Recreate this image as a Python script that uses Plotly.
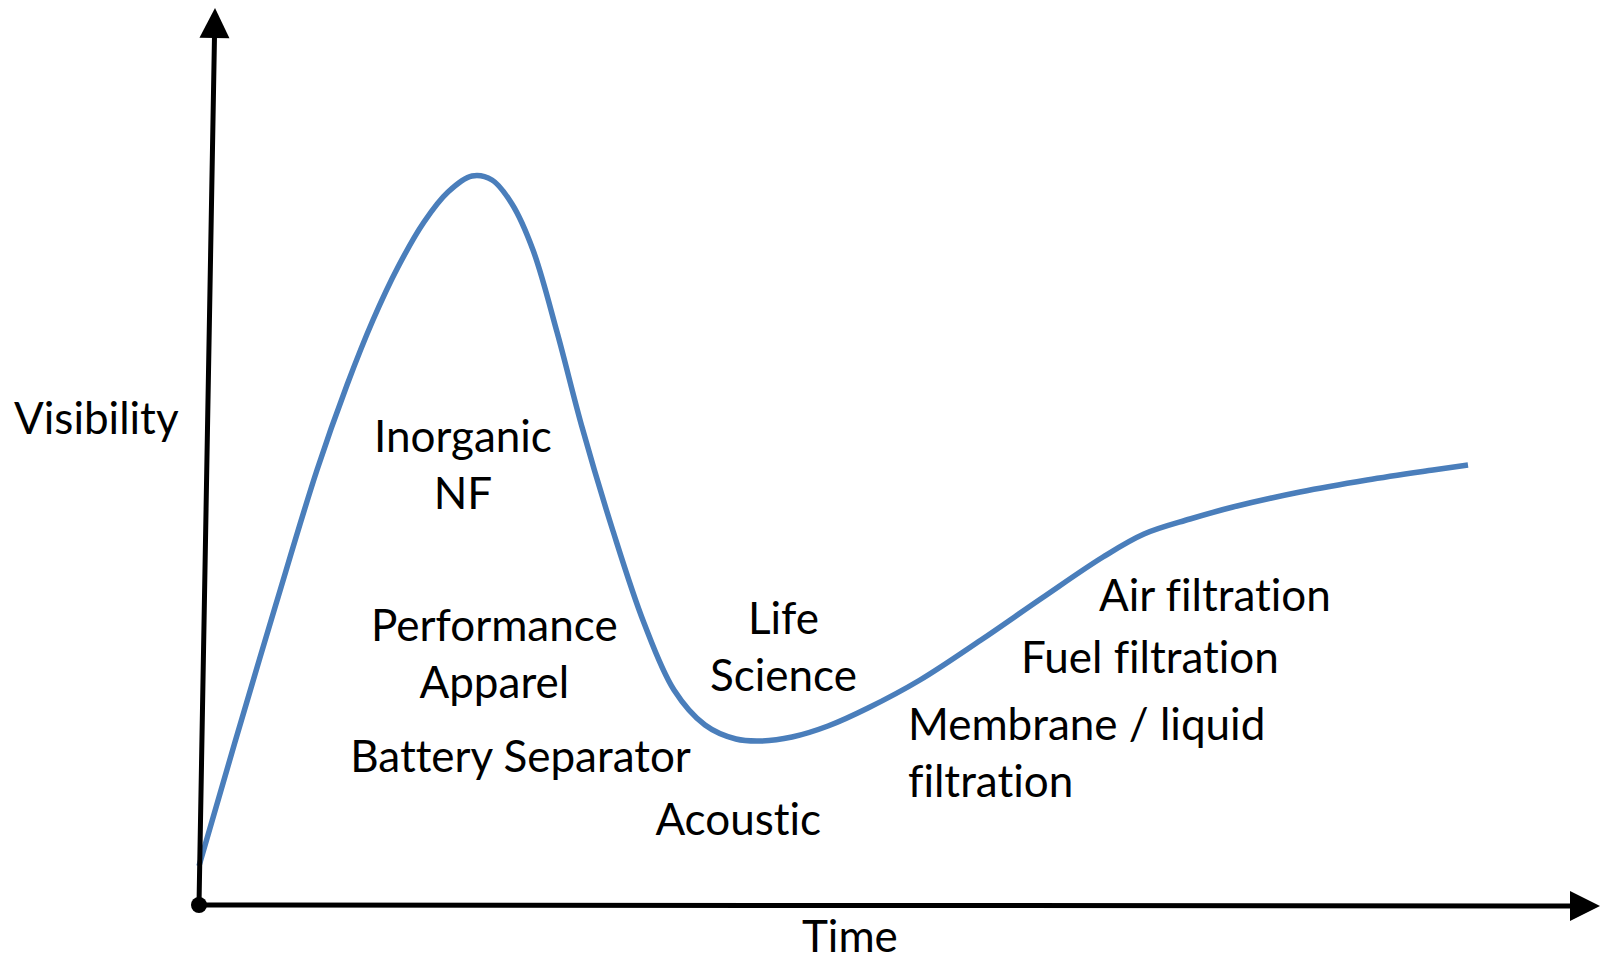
import plotly.graph_objects as go

# Hype-cycle curve (pixel-space coordinates of the drawing canvas)
curve_x = [199, 235, 276, 317, 347, 373, 398, 424, 448, 472, 492, 512, 533, 557, 582, 613, 644,
           674, 705, 736, 761, 792, 828, 868, 920, 981, 1042, 1103, 1144, 1190, 1233, 1300, 1367, 1433, 1468]
curve_y = [866, 742, 604, 470, 385, 320, 267, 222, 192, 176, 180, 204, 250, 332, 427, 531, 623,
           690, 725, 739, 741, 737, 726, 708, 680, 640, 598, 557, 534, 519, 507, 492, 480, 470, 465]

# Axes (tail -> head)
origin = (199, 905)
y_axis_head = (215, 8)
x_axis_head = (1600, 906)

# Labels
label_texts = ["Inorganic<br>NF", "Performance<br>Apparel", "Battery Separator", "Acoustic",
               "Life<br>Science", "Membrane / liquid<br>filtration", "Fuel filtration",
               "Air filtration", "Visibility", "Time"]
label_x = [463, 494, 520, 738, 783, 907, 1020, 1098, 13, 850]
label_y = [463, 652, 755, 818, 645, 751, 656, 594, 417, 962]
label_anchor = ["center", "center", "center", "center", "center", "left", "left", "left", "left", "center"]
label_vanchor = ["middle"] * 9 + ["bottom"]

FONT = dict(family="Lato, 'Open Sans', sans-serif", size=44, color="black")

fig = go.Figure()
fig.add_trace(go.Scatter(x=curve_x, y=curve_y, mode="lines",
                         line=dict(color="#4a7ebb", width=5.5, shape="spline", smoothing=1.0),
                         hoverinfo="skip", showlegend=False))
fig.add_trace(go.Scatter(x=[origin[0]], y=[origin[1]], mode="markers",
                         marker=dict(color="black", size=16), hoverinfo="skip", showlegend=False))

for head in (y_axis_head, x_axis_head):
    fig.add_annotation(x=head[0], y=head[1], ax=origin[0], ay=origin[1],
                       xref="x", yref="y", axref="x", ayref="y", text="",
                       showarrow=True, arrowhead=2, arrowwidth=5, arrowsize=1.2,
                       arrowcolor="black", standoff=0)

for t, x, y, a, v in zip(label_texts, label_x, label_y, label_anchor, label_vanchor):
    fig.add_annotation(x=x, y=y, xref="x", yref="y", text=t, showarrow=False,
                       xanchor=a, yanchor=v, align=a, font=FONT, borderpad=0)

fig.update_layout(width=1602, height=962, margin=dict(l=0, r=0, t=0, b=0),
                  paper_bgcolor="white", plot_bgcolor="white",
                  xaxis=dict(range=[0, 1602], visible=False, fixedrange=True),
                  yaxis=dict(range=[962, 0], visible=False, fixedrange=True))

post = ("document.body.style.margin='0';document.body.style.overflow='hidden';"
        "var s=document.createElement('style');"
        "s.textContent='text{font-variant-ligatures:none !important;font-feature-settings:\"liga\" 0,\"dlig\" 0 !important;}';"
        "document.head.appendChild(s);")
fig.write_html("out.html", config={"displayModeBar": False}, post_script=post)
